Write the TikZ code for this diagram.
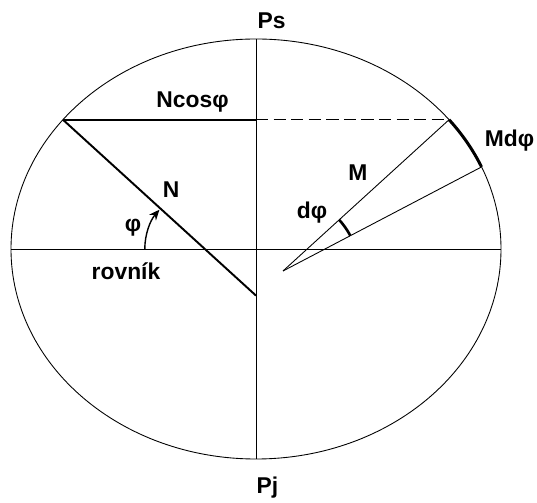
\documentclass[tikz,border=0pt]{standalone}
\usepackage{fontspec}
\setmainfont{Liberation Sans}
\usetikzlibrary{arrows.meta,calc}

\begin{document}
\begin{tikzpicture}[x=0.02cm,y=0.02cm, line width=0.5pt,
    every node/.style={font=\bfseries\fontsize{13}{15}\selectfont, inner sep=0pt},
    heavy/.style={line width=1.1pt},
    arcmark/.style={line width=1.7pt}]
      \useasboundingbox (-256,-254) rectangle (281,249);
      \coordinate (O) at (0,0);
      \coordinate (A) at (142:245 and 210);
      \coordinate (B) at (38:245 and 210);
      \coordinate (C) at (23:245 and 210);
      \coordinate (Q) at (0,-46.6);
      \coordinate (K) at (27,-22);
      \coordinate (E) at (-51.2,0);

      % ellipse and axes
      \draw (O) ellipse [x radius=245, y radius=210];
      \draw (0,210) -- (0,-210);
      \draw (-245,0) -- (245,0);

      % normal and parallel radius
      \draw[heavy] (A) -- (A -| O);
      \draw[dash pattern=on 7pt off 3pt] (A -| O) -- (B);
      \draw[heavy] (A) -- (Q);
      \draw[line width=0.8pt,-{Stealth[length=6pt,width=5pt]}] (E) ++(180:60) arc[start angle=180, end angle=139, radius=60];

      % meridian element
      \draw (K) -- (B);
      \draw (K) -- (C);
      \draw[arcmark] (B) arc[start angle=38, end angle=23, x radius=245, y radius=210];
      \draw[arcmark,line width=1.5pt] ($(K)+(27.6:76)$) arc[start angle=27.6, end angle=42.3, radius=76];

      \node (ps) at (15.5,228) {Ps};
      \node (pj) at (11.5,-239) {Pj};
      \node (ncos) at (-63.5,146.5) {Ncosφ};
      \node (nlab) at (-85,59) {N};
      \node (phi) at (-123,21) {φ};
      \node (rov) at (-130,-22.5) {rovník};
      \node (mlab) at (102,76) {M};
      \node (dphi) at (56,36) {dφ};
      \node (mdphi) at (253.5,108) {Mdφ};
    \end{tikzpicture}
\end{document}
